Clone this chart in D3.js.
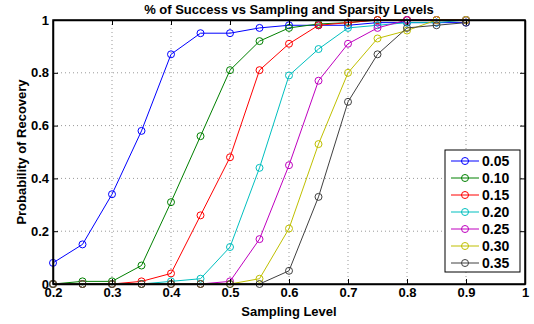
<!DOCTYPE html>
<html>
<head>
<meta charset="utf-8">
<script src="https://cdn.jsdelivr.net/npm/d3@7"></script>
<style>
  body { margin: 0; background: #fff; }
  text { font-family: "Liberation Sans", Arial, sans-serif; font-weight: bold; }
</style>
</head>
<body>
<svg id="chart" width="534" height="324"></svg>
<script>
const samplingLevels = [0.2, 0.25, 0.3, 0.35, 0.4, 0.45, 0.5, 0.55, 0.6, 0.65, 0.7, 0.75, 0.8, 0.85, 0.9];
const sparsityLabels = ['0.05', '0.10', '0.15', '0.20', '0.25', '0.30', '0.35'];
const seriesColors = ['#0000ff', '#008000', '#ff0000', '#00bfbf', '#bf00bf', '#bfbf00', '#404040'];

const s005 = [0.08, 0.15, 0.34, 0.58, 0.87, 0.95, 0.95, 0.97, 0.98, 0.98, 0.98, 0.99, 0.99, 0.99, 0.99];
const s010 = [0, 0.01, 0.01, 0.07, 0.31, 0.56, 0.81, 0.92, 0.97, 0.985, 0.99, 1, 1, 1, 1];
const s015 = [0, 0, 0, 0.01, 0.04, 0.26, 0.48, 0.81, 0.91, 0.98, 0.99, 1, 1, 1, 1];
const s020 = [0, 0, 0, 0, 0.01, 0.02, 0.14, 0.44, 0.79, 0.89, 0.97, 0.98, 0.99, 0.99, 1];
const s025 = [0, 0, 0, 0, 0, 0, 0.01, 0.17, 0.45, 0.77, 0.91, 0.97, 1, 1, 1];
const s030 = [0, 0, 0, 0, 0, 0, 0, 0.02, 0.21, 0.53, 0.80, 0.93, 0.96, 1, 1];
const s035 = [0, 0, 0, 0, 0, 0, 0, 0, 0.05, 0.33, 0.69, 0.87, 0.97, 0.98, 0.99];
const allSeries = [s005, s010, s015, s020, s025, s030, s035];

const xTicks = [0.2, 0.3, 0.4, 0.5, 0.6, 0.7, 0.8, 0.9, 1];
const yTicks = [0, 0.2, 0.4, 0.6, 0.8, 1];

const margin = { top: 20, right: 9, bottom: 40, left: 53 };
const width = 534 - margin.left - margin.right;
const height = 324 - margin.top - margin.bottom;

const svg = d3.select('#chart');
const g = svg.append('g')
  .attr('transform', 'translate(' + margin.left + ',' + margin.top + ')');

const x = d3.scaleLinear().domain([0.2, 1]).range([0, width]);
const y = d3.scaleLinear().domain([0, 1]).range([height, 0]);

// grid
g.append('g').selectAll('line').data(xTicks.slice(1, -1)).enter().append('line')
  .attr('x1', d => x(d)).attr('x2', d => x(d))
  .attr('y1', 0).attr('y2', height)
  .attr('stroke', '#999').attr('stroke-width', 1).attr('stroke-dasharray', '1,3');
g.append('g').selectAll('line').data(yTicks.slice(1, -1)).enter().append('line')
  .attr('x1', 0).attr('x2', width)
  .attr('y1', d => y(d)).attr('y2', d => y(d))
  .attr('stroke', '#999').attr('stroke-width', 1).attr('stroke-dasharray', '1,3');

// series
const line = d3.line()
  .x((d, i) => x(samplingLevels[i]))
  .y(d => y(d));

allSeries.forEach((vals, k) => {
  const sg = g.append('g');
  sg.append('path')
    .datum(vals)
    .attr('d', line)
    .attr('fill', 'none')
    .attr('stroke', seriesColors[k])
    .attr('stroke-width', 1);
  sg.selectAll('circle').data(vals).enter().append('circle')
    .attr('cx', (d, i) => x(samplingLevels[i]))
    .attr('cy', d => y(d))
    .attr('r', 3.5)
    .attr('fill', 'none')
    .attr('stroke', seriesColors[k])
    .attr('stroke-width', 1);
});

// axes
const xAxis = g.append('g')
  .attr('transform', 'translate(0,' + height + ')')
  .call(d3.axisBottom(x).tickValues(xTicks).tickSizeInner(-5).tickSizeOuter(0).tickPadding(4)
    .tickFormat(d => d === 1 ? '1' : d3.format('.1f')(d)));
const yAxis = g.append('g')
  .call(d3.axisLeft(y).tickValues(yTicks).tickSizeInner(-5).tickSizeOuter(0).tickPadding(4)
    .tickFormat(d => (d === 0 || d === 1) ? String(d) : d3.format('.1f')(d)));
g.append('g')
  .call(d3.axisTop(x).tickValues(xTicks).tickSizeInner(-5).tickSizeOuter(0).tickFormat(''));
g.append('g')
  .attr('transform', 'translate(' + width + ',0)')
  .call(d3.axisRight(y).tickValues(yTicks).tickSizeInner(-5).tickSizeOuter(0).tickFormat(''));

svg.selectAll('.domain').attr('stroke', '#000').attr('stroke-width', 1.5);
svg.selectAll('.tick line').attr('stroke', '#000');
xAxis.selectAll('text').attr('font-size', 13).attr('fill', '#000');
yAxis.selectAll('text').attr('font-size', 13).attr('fill', '#000');

g.append('rect')
  .attr('x', 0).attr('y', 0).attr('width', width).attr('height', height)
  .attr('fill', 'none').attr('stroke', '#000').attr('stroke-width', 1.5);

// titles
svg.append('text')
  .attr('x', margin.left + width / 2).attr('y', 14)
  .attr('text-anchor', 'middle').attr('font-size', 13)
  .text('% of Success vs Sampling and Sparsity Levels');
svg.append('text')
  .attr('x', margin.left + width / 2).attr('y', 316)
  .attr('text-anchor', 'middle').attr('font-size', 13)
  .text('Sampling Level');
svg.append('text')
  .attr('transform', 'translate(26,' + (margin.top + height / 2) + ') rotate(-90)')
  .attr('text-anchor', 'middle').attr('font-size', 13)
  .text('Probability of Recovery');

// legend
const legend = svg.append('g').attr('transform', 'translate(445,150)');
legend.append('rect')
  .attr('width', 75).attr('height', 122)
  .attr('fill', '#fff').attr('stroke', '#000').attr('stroke-width', 1);
sparsityLabels.forEach((lab, k) => {
  const ly = 11 + k * 17;
  legend.append('line')
    .attr('x1', 6).attr('x2', 34).attr('y1', ly).attr('y2', ly)
    .attr('stroke', seriesColors[k]).attr('stroke-width', 1);
  legend.append('circle')
    .attr('cx', 20).attr('cy', ly).attr('r', 3.5)
    .attr('fill', 'none').attr('stroke', seriesColors[k]);
  legend.append('text')
    .attr('x', 37).attr('y', ly + 5)
    .attr('font-size', 14)
    .text(lab);
});
</script>
</body>
</html>
